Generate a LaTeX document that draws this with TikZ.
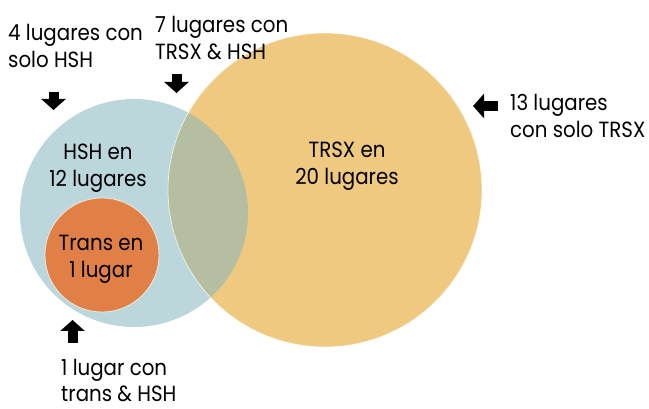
\documentclass[tikz,border=0pt]{standalone}
\usepackage{fontspec}
\setmainfont{Poppins}[FakeStretch=0.9]
\usetikzlibrary{arrows.meta}
\definecolor{HshBlue}{RGB}{187,215,220}
\definecolor{TrsxGold}{RGB}{239,201,128}
\definecolor{MixGreen}{RGB}{181,190,161}
\definecolor{TransOrange}{RGB}{224,128,70}

\begin{document}
\begin{tikzpicture}[x=1pt,y=-1pt,
  lbl/.style={inner sep=0pt, font=\fontsize{22}{27}\selectfont},
  blockarrow/.style={line width=10pt, -{Triangle[length=11pt,width=24pt]}},
  rim/.style={draw=white, line width=0.8pt, draw opacity=0.7}]
  \useasboundingbox (0,0) rectangle (649,409);

  % the three sets
  \fill[HshBlue] (134,213) circle (114);
  \fill[TrsxGold] (325,190) circle (157);
  \begin{scope}
    \clip (134,213) circle (114);
    \fill[MixGreen] (325,190) circle (157);
  \end{scope}
  \draw[rim] (325,190) circle (157);
  \fill[TransOrange] (102,255) circle (57);
  \draw[rim] (102,255) circle (57);

  % set names (base = last line)
  \node[lbl, align=center, anchor=base] (hshname) at (98,187) {HSH en\\12 lugares};
  \node[lbl, align=center, anchor=base] (trsxname) at (347,185) {TRSX en\\20 lugares};
  \node[lbl, align=center, anchor=base] (transname) at (101,278) {Trans en\\1 lugar};

  % counts outside
  \node[lbl, align=left, anchor=base west] (onlyhsh) at (8,68) {4 lugares con\\solo HSH};
  \node[lbl, align=left, anchor=base west] (bothtx) at (155,60) {7 lugares con\\TRSX \& HSH};
  \node[lbl, align=left, anchor=base west] (onlytrsx) at (510,138) {13 lugares\\con solo TRSX};
  \node[lbl, align=left, anchor=base west] (transhsh) at (61,402) {1 lugar con\\trans \& HSH};

  % pointers
  \coordinate (a1) at (53.5,92);  \coordinate (b1) at (53.5,110);
  \coordinate (a2) at (176.5,74); \coordinate (b2) at (176.5,93);
  \coordinate (a3) at (498,106);  \coordinate (b3) at (473,106);
  \coordinate (a4) at (72.5,343); \coordinate (b4) at (72.5,320);
  \draw[blockarrow] (a1) -- (b1);
  \draw[blockarrow] (a2) -- (b2);
  \draw[blockarrow] (a3) -- (b3);
  \draw[blockarrow] (a4) -- (b4);
\end{tikzpicture}
\end{document}
